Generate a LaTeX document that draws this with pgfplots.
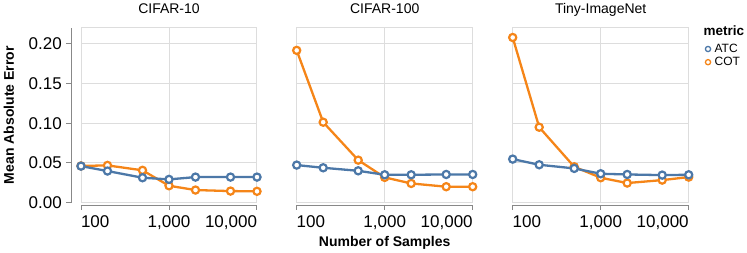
\documentclass[border=0pt]{standalone}
\usepackage{pgfplots}
\usepackage{pgfplotstable}
\pgfplotsset{compat=1.18}
\usepackage{fontspec}
\setmainfont{Liberation Sans}
\definecolor{atc}{HTML}{4C78A8}
\definecolor{cot}{HTML}{F58518}
\definecolor{gridc}{HTML}{DDDDDD}
\definecolor{domc}{HTML}{888888}
\newcommand{\ticksize}{\fontsize{17bp}{20bp}\selectfont}
\newcommand{\titlesize}{\fontsize{14bp}{16bp}\selectfont}
\newcommand{\labelsize}{\fontsize{14bp}{16bp}\selectfont}

\pgfplotstableread{
n atc cot
100 0.0460 0.0462
200 0.0398 0.0469
500 0.0314 0.0407
1000 0.0293 0.0213
2000 0.0322 0.0159
5000 0.0322 0.0146
10000 0.0322 0.0143
}\cifarten
\pgfplotstableread{
n atc cot
100 0.0473 0.1915
200 0.0439 0.1012
500 0.0401 0.0535
1000 0.0351 0.0318
2000 0.0351 0.0242
5000 0.0355 0.0201
10000 0.0355 0.0201
}\cifarhundred
\pgfplotstableread{
n atc cot
100 0.0548 0.2077
200 0.0477 0.0949
500 0.0431 0.0452
1000 0.0364 0.0314
2000 0.0355 0.0247
5000 0.0347 0.0284
10000 0.0351 0.0322
}\tinyimagenet

\pgfplotsset{
  every axis/.append style={
    anchor=south west, scale only axis, width=176bp, height=175bp,
    xmin=100, xmax=10000, ymin=0, ymax=0.22,
    xtick={100,1000,10000},
    xticklabels={{\rlap{100}},{1,000},{\llap{10,000}}},
    ytick={0,0.05,0.1,0.15,0.2},
    grid=major, major grid style={draw=gridc, line width=1bp},
    axis line style={draw=gridc, line width=1bp},
    tick style={draw=none},
    xticklabel style={inner sep=0pt, anchor=north, yshift=-12.3bp, font=\ticksize},
    yticklabel style={inner sep=0pt, anchor=east, xshift=-19bp, font=\ticksize},
    clip=false,
  },
  atcline/.style={color=atc, line width=2.3bp, mark=*, mark size=3.6bp,
    mark options={fill=white, draw=atc, line width=2.2bp}},
  cotline/.style={color=cot, line width=2.3bp, mark=*, mark size=3.6bp,
    mark options={fill=white, draw=cot, line width=2.2bp}},
}
\newcommand{\xaxisdeco}[1]{%
  \draw[domc, line width=1bp] ([yshift=-2.3bp]rel axis cs:0,0) -- ([yshift=-2.3bp]rel axis cs:1,0);
  \draw[domc, line width=1bp] ([yshift=-2.3bp]rel axis cs:0,0) -- ([yshift=-7.3bp]rel axis cs:0,0);
  \draw[domc, line width=1bp] ([yshift=-2.3bp]rel axis cs:0.5,0) -- ([yshift=-7.3bp]rel axis cs:0.5,0);
  \draw[domc, line width=1bp] ([yshift=-2.3bp]rel axis cs:1,0) -- ([yshift=-7.3bp]rel axis cs:1,0);
  \node[anchor=base, inner sep=0pt, font=\titlesize] at ([yshift=14.4bp]rel axis cs:0.5,1) {#1};
}

\begin{document}
\begin{tikzpicture}
\useasboundingbox (0,0) rectangle (747bp,253bp);

% Panel 1
\begin{semilogxaxis}[at={(81bp,50.3bp)},
  yticklabels={0.00,0.05,0.10,0.15,0.20},
  ylabel={\bfseries Mean Absolute Error},
  ylabel style={at={(axis description cs:-0.3807,0.5)}, anchor=base, font=\labelsize, inner sep=0pt}]
\addplot[cotline] table[x=n, y=cot] {\cifarten};
\addplot[atcline] table[x=n, y=atc] {\cifarten};
\xaxisdeco{CIFAR-10}
\draw[domc, line width=1bp] ([xshift=-10bp]rel axis cs:0,0) -- ([xshift=-10bp]rel axis cs:0,1);
\draw[domc, line width=1bp] ([xshift=-10bp]rel axis cs:0,0) -- ([xshift=-15bp]rel axis cs:0,0);
\draw[domc, line width=1bp] ([xshift=-10bp]axis cs:100,0.05) -- ([xshift=-15bp]axis cs:100,0.05);
\draw[domc, line width=1bp] ([xshift=-10bp]axis cs:100,0.10) -- ([xshift=-15bp]axis cs:100,0.10);
\draw[domc, line width=1bp] ([xshift=-10bp]axis cs:100,0.15) -- ([xshift=-15bp]axis cs:100,0.15);
\draw[domc, line width=1bp] ([xshift=-10bp]axis cs:100,0.20) -- ([xshift=-15bp]axis cs:100,0.20);
\end{semilogxaxis}

% Panel 2
\begin{semilogxaxis}[at={(296.7bp,50.3bp)},
  yticklabels={{},{},{},{},{}},
  xlabel={\bfseries Number of Samples},
  xlabel style={at={(axis description cs:0.5,0)}, anchor=base, yshift=-44bp, font=\labelsize, inner sep=0pt}]
\addplot[cotline] table[x=n, y=cot] {\cifarhundred};
\addplot[atcline] table[x=n, y=atc] {\cifarhundred};
\xaxisdeco{CIFAR-100}
\end{semilogxaxis}

% Panel 3
\begin{semilogxaxis}[at={(512.7bp,50.3bp)},
  yticklabels={{},{},{},{},{}},
  legend image code/.code={\draw[#1] plot coordinates {(0bp,0bp)};},
  legend style={at={(axis description cs:1.095,0.915)}, anchor=north west,
    draw=none, fill=none, inner sep=0pt, outer sep=0pt,
    font=\fontsize{12bp}{14bp}\selectfont, row sep=0.3bp,
    nodes={inner sep=1.5bp},
    /tikz/every odd column/.append style={column sep=2.5bp}},
  legend cell align=left]
\addlegendimage{only marks, mark=o, mark size=2.6bp, line width=1.3bp, color=atc}
\addlegendentry{ATC}
\addlegendimage{only marks, mark=o, mark size=2.6bp, line width=1.3bp, color=cot}
\addlegendentry{COT}
\addplot[cotline, forget plot] table[x=n, y=cot] {\tinyimagenet};
\addplot[atcline, forget plot] table[x=n, y=atc] {\tinyimagenet};
\xaxisdeco{Tiny-ImageNet}
\end{semilogxaxis}

\node[anchor=base west, inner sep=0pt, font=\bfseries\fontsize{13.5bp}{15bp}\selectfont] at (703.5bp,217.5bp) {metric};
\end{tikzpicture}
\end{document}
